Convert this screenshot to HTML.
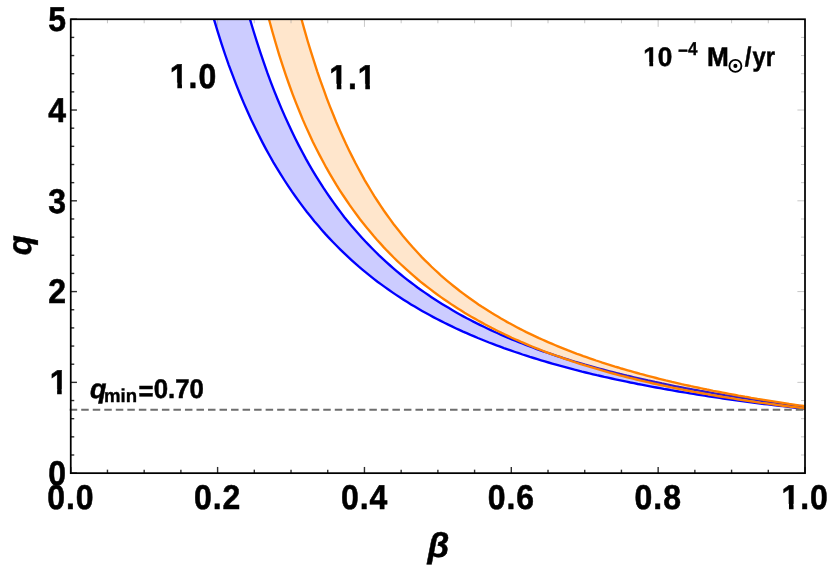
<!DOCTYPE html>
<html><head><meta charset="utf-8"><title>plot</title>
<style>
html,body{margin:0;padding:0;background:#fff;}
body{width:830px;height:565px;overflow:hidden;}
svg{display:block;will-change:transform;}
text{font-family:"Liberation Sans",sans-serif;font-weight:bold;fill:#000;text-rendering:geometricPrecision;}
.tl{font-size:35px;stroke:#000;stroke-width:0.55px;}
.ls{letter-spacing:1.04px;}
.al{font-size:35px;font-style:italic;stroke:#000;stroke-width:0.5px;}
.ml{font-size:27px;stroke:#000;stroke-width:0.5px;}
.sl{font-size:18.6px;stroke:#000;stroke-width:0.35px;}
.it{font-style:italic;}
.tk{stroke:#2e2e2e;stroke-width:1.4;}
.tk2{stroke:#999;stroke-width:0.55;}
</style></head><body>
<svg width="830" height="565" viewBox="0 0 830 565">
<rect width="830" height="565" fill="#fff"/>
<path d="M214.0 19.3L217.7 31.6L221.4 43.4L225.1 54.5L228.8 65.1L232.6 75.2L236.3 84.8L240.0 94.0L243.7 102.9L247.4 111.3L251.1 119.5L254.9 127.3L258.6 134.8L262.3 142.1L266.0 149.1L269.7 155.8L273.4 162.3L277.2 168.6L280.9 174.6L284.6 180.5L288.3 186.2L292.0 191.7L295.8 197.0L299.5 202.1L303.2 207.1L306.9 212.0L310.6 216.6L314.3 221.2L318.1 225.6L321.8 229.9L325.5 234.1L329.2 238.1L332.9 242.0L336.6 245.8L340.4 249.6L344.1 253.2L347.8 256.7L351.5 260.1L355.2 263.4L358.9 266.7L362.7 269.8L366.4 272.9L370.1 275.9L373.8 278.8L377.5 281.7L381.2 284.4L385.0 287.1L388.7 289.8L392.4 292.4L396.1 294.9L399.8 297.3L403.5 299.7L407.3 302.1L411.0 304.4L414.7 306.6L418.4 308.8L422.1 310.9L425.9 313.0L429.6 315.1L433.3 317.1L437.0 319.0L440.7 320.9L444.4 322.8L448.2 324.6L451.9 326.4L455.6 328.2L459.3 329.9L463.0 331.6L466.7 333.2L470.5 334.9L474.2 336.4L477.9 338.0L481.6 339.5L485.3 341.0L489.0 342.5L492.8 343.9L496.5 345.3L500.2 346.7L503.9 348.1L507.6 349.4L511.3 350.7L515.1 352.0L518.8 353.2L522.5 354.5L526.2 355.7L529.9 356.9L533.6 358.0L537.4 359.2L541.1 360.3L544.8 361.4L548.5 362.5L552.2 363.6L556.0 364.7L559.7 365.7L563.4 366.7L567.1 367.7L570.8 368.7L574.5 369.7L578.3 370.6L582.0 371.6L585.7 372.5L589.4 373.4L593.1 374.3L596.8 375.2L600.6 376.0L604.3 376.9L608.0 377.7L611.7 378.5L615.4 379.3L619.1 380.1L622.9 380.9L626.6 381.7L630.3 382.5L634.0 383.2L637.7 384.0L641.4 384.7L645.2 385.4L648.9 386.1L652.6 386.8L656.3 387.5L660.0 388.2L663.7 388.9L667.5 389.5L671.2 390.2L674.9 390.8L678.6 391.5L682.3 392.1L686.1 392.7L689.8 393.3L693.5 393.9L697.2 394.5L700.9 395.1L704.6 395.7L708.4 396.3L712.1 396.8L715.8 397.4L719.5 397.9L723.2 398.5L726.9 399.0L730.7 399.5L734.4 400.0L738.1 400.6L741.8 401.1L745.5 401.6L749.2 402.1L753.0 402.5L756.7 403.0L760.4 403.5L764.1 404.0L767.8 404.4L771.5 404.9L775.3 405.4L779.0 405.8L782.7 406.2L786.4 406.7L790.1 407.1L793.8 407.5L797.6 408.0L801.3 408.4L805.0 408.8L805.0 406.6L801.5 406.1L798.0 405.7L794.5 405.2L791.0 404.8L787.5 404.3L784.1 403.9L780.6 403.4L777.1 402.9L773.6 402.4L770.1 402.0L766.6 401.5L763.1 401.0L759.6 400.5L756.1 399.9L752.6 399.4L749.2 398.9L745.7 398.4L742.2 397.8L738.7 397.3L735.2 396.8L731.7 396.2L728.2 395.6L724.7 395.1L721.2 394.5L717.7 393.9L714.2 393.3L710.8 392.7L707.3 392.1L703.8 391.5L700.3 390.9L696.8 390.2L693.3 389.6L689.8 389.0L686.3 388.3L682.8 387.6L679.3 387.0L675.8 386.3L672.4 385.6L668.9 384.9L665.4 384.2L661.9 383.5L658.4 382.7L654.9 382.0L651.4 381.2L647.9 380.5L644.4 379.7L640.9 378.9L637.5 378.1L634.0 377.3L630.5 376.5L627.0 375.7L623.5 374.8L620.0 374.0L616.5 373.1L613.0 372.2L609.5 371.3L606.0 370.4L602.5 369.5L599.1 368.6L595.6 367.6L592.1 366.6L588.6 365.6L585.1 364.7L581.6 363.6L578.1 362.6L574.6 361.6L571.1 360.5L567.6 359.4L564.1 358.3L560.7 357.2L557.2 356.1L553.7 354.9L550.2 353.7L546.7 352.5L543.2 351.3L539.7 350.1L536.2 348.8L532.7 347.5L529.2 346.2L525.8 344.9L522.3 343.5L518.8 342.1L515.3 340.7L511.8 339.3L508.3 337.9L504.8 336.4L501.3 334.9L497.8 333.3L494.3 331.7L490.8 330.1L487.4 328.5L483.9 326.8L480.4 325.1L476.9 323.4L473.4 321.6L469.9 319.8L466.4 318.0L462.9 316.1L459.4 314.2L455.9 312.2L452.5 310.2L449.0 308.1L445.5 306.0L442.0 303.9L438.5 301.7L435.0 299.5L431.5 297.2L428.0 294.8L424.5 292.4L421.0 290.0L417.5 287.5L414.1 284.9L410.6 282.3L407.1 279.6L403.6 276.8L400.1 274.0L396.6 271.1L393.1 268.1L389.6 265.0L386.1 261.9L382.6 258.7L379.1 255.4L375.7 252.0L372.2 248.5L368.7 244.9L365.2 241.3L361.7 237.5L358.2 233.6L354.7 229.6L351.2 225.5L347.7 221.2L344.2 216.9L340.8 212.4L337.3 207.7L333.8 202.9L330.3 198.0L326.8 192.9L323.3 187.7L319.8 182.2L316.3 176.6L312.8 170.8L309.3 164.8L305.8 158.6L302.4 152.2L298.9 145.6L295.4 138.7L291.9 131.5L288.4 124.1L284.9 116.4L281.4 108.4L277.9 100.0L274.4 91.4L270.9 82.3L267.4 72.9L264.0 63.1L260.5 52.9L257.0 42.2L253.5 31.0L250.0 19.3Z" fill="#0000ff" fill-opacity="0.2"/>
<path d="M214.0 19.3L217.7 31.6L221.4 43.4L225.1 54.5L228.8 65.1L232.6 75.2L236.3 84.8L240.0 94.0L243.7 102.9L247.4 111.3L251.1 119.5L254.9 127.3L258.6 134.8L262.3 142.1L266.0 149.1L269.7 155.8L273.4 162.3L277.2 168.6L280.9 174.6L284.6 180.5L288.3 186.2L292.0 191.7L295.8 197.0L299.5 202.1L303.2 207.1L306.9 212.0L310.6 216.6L314.3 221.2L318.1 225.6L321.8 229.9L325.5 234.1L329.2 238.1L332.9 242.0L336.6 245.8L340.4 249.6L344.1 253.2L347.8 256.7L351.5 260.1L355.2 263.4L358.9 266.7L362.7 269.8L366.4 272.9L370.1 275.9L373.8 278.8L377.5 281.7L381.2 284.4L385.0 287.1L388.7 289.8L392.4 292.4L396.1 294.9L399.8 297.3L403.5 299.7L407.3 302.1L411.0 304.4L414.7 306.6L418.4 308.8L422.1 310.9L425.9 313.0L429.6 315.1L433.3 317.1L437.0 319.0L440.7 320.9L444.4 322.8L448.2 324.6L451.9 326.4L455.6 328.2L459.3 329.9L463.0 331.6L466.7 333.2L470.5 334.9L474.2 336.4L477.9 338.0L481.6 339.5L485.3 341.0L489.0 342.5L492.8 343.9L496.5 345.3L500.2 346.7L503.9 348.1L507.6 349.4L511.3 350.7L515.1 352.0L518.8 353.2L522.5 354.5L526.2 355.7L529.9 356.9L533.6 358.0L537.4 359.2L541.1 360.3L544.8 361.4L548.5 362.5L552.2 363.6L556.0 364.7L559.7 365.7L563.4 366.7L567.1 367.7L570.8 368.7L574.5 369.7L578.3 370.6L582.0 371.6L585.7 372.5L589.4 373.4L593.1 374.3L596.8 375.2L600.6 376.0L604.3 376.9L608.0 377.7L611.7 378.5L615.4 379.3L619.1 380.1L622.9 380.9L626.6 381.7L630.3 382.5L634.0 383.2L637.7 384.0L641.4 384.7L645.2 385.4L648.9 386.1L652.6 386.8L656.3 387.5L660.0 388.2L663.7 388.9L667.5 389.5L671.2 390.2L674.9 390.8L678.6 391.5L682.3 392.1L686.1 392.7L689.8 393.3L693.5 393.9L697.2 394.5L700.9 395.1L704.6 395.7L708.4 396.3L712.1 396.8L715.8 397.4L719.5 397.9L723.2 398.5L726.9 399.0L730.7 399.5L734.4 400.0L738.1 400.6L741.8 401.1L745.5 401.6L749.2 402.1L753.0 402.5L756.7 403.0L760.4 403.5L764.1 404.0L767.8 404.4L771.5 404.9L775.3 405.4L779.0 405.8L782.7 406.2L786.4 406.7L790.1 407.1L793.8 407.5L797.6 408.0L801.3 408.4L805.0 408.8" fill="none" stroke="#0000ff" stroke-width="2.35"/>
<path d="M250.0 19.3L253.5 31.0L257.0 42.2L260.5 52.9L264.0 63.1L267.4 72.9L270.9 82.3L274.4 91.4L277.9 100.0L281.4 108.4L284.9 116.4L288.4 124.1L291.9 131.5L295.4 138.7L298.9 145.6L302.4 152.2L305.8 158.6L309.3 164.8L312.8 170.8L316.3 176.6L319.8 182.2L323.3 187.7L326.8 192.9L330.3 198.0L333.8 202.9L337.3 207.7L340.8 212.4L344.2 216.9L347.7 221.2L351.2 225.5L354.7 229.6L358.2 233.6L361.7 237.5L365.2 241.3L368.7 244.9L372.2 248.5L375.7 252.0L379.1 255.4L382.6 258.7L386.1 261.9L389.6 265.0L393.1 268.1L396.6 271.1L400.1 274.0L403.6 276.8L407.1 279.6L410.6 282.3L414.1 284.9L417.5 287.5L421.0 290.0L424.5 292.4L428.0 294.8L431.5 297.2L435.0 299.5L438.5 301.7L442.0 303.9L445.5 306.0L449.0 308.1L452.5 310.2L455.9 312.2L459.4 314.2L462.9 316.1L466.4 318.0L469.9 319.8L473.4 321.6L476.9 323.4L480.4 325.1L483.9 326.8L487.4 328.5L490.8 330.1L494.3 331.7L497.8 333.3L501.3 334.9L504.8 336.4L508.3 337.9L511.8 339.3L515.3 340.7L518.8 342.1L522.3 343.5L525.8 344.9L529.2 346.2L532.7 347.5L536.2 348.8L539.7 350.1L543.2 351.3L546.7 352.5L550.2 353.7L553.7 354.9L557.2 356.1L560.7 357.2L564.1 358.3L567.6 359.4L571.1 360.5L574.6 361.6L578.1 362.6L581.6 363.6L585.1 364.7L588.6 365.6L592.1 366.6L595.6 367.6L599.1 368.6L602.5 369.5L606.0 370.4L609.5 371.3L613.0 372.2L616.5 373.1L620.0 374.0L623.5 374.8L627.0 375.7L630.5 376.5L634.0 377.3L637.5 378.1L640.9 378.9L644.4 379.7L647.9 380.5L651.4 381.2L654.9 382.0L658.4 382.7L661.9 383.5L665.4 384.2L668.9 384.9L672.4 385.6L675.8 386.3L679.3 387.0L682.8 387.6L686.3 388.3L689.8 389.0L693.3 389.6L696.8 390.2L700.3 390.9L703.8 391.5L707.3 392.1L710.8 392.7L714.2 393.3L717.7 393.9L721.2 394.5L724.7 395.1L728.2 395.6L731.7 396.2L735.2 396.8L738.7 397.3L742.2 397.8L745.7 398.4L749.2 398.9L752.6 399.4L756.1 399.9L759.6 400.5L763.1 401.0L766.6 401.5L770.1 402.0L773.6 402.4L777.1 402.9L780.6 403.4L784.1 403.9L787.5 404.3L791.0 404.8L794.5 405.2L798.0 405.7L801.5 406.1L805.0 406.6" fill="none" stroke="#0000ff" stroke-width="2.35"/>
<path d="M269.0 19.3L272.4 31.7L275.8 43.5L279.1 54.6L282.5 65.2L285.9 75.3L289.3 85.0L292.6 94.1L296.0 102.9L299.4 111.3L302.7 119.4L306.1 127.1L309.5 134.5L312.8 141.7L316.2 148.5L319.6 155.1L323.0 161.5L326.3 167.7L329.7 173.6L333.1 179.3L336.4 184.9L339.8 190.3L343.2 195.5L346.6 200.5L349.9 205.4L353.3 210.1L356.7 214.7L360.0 219.2L363.4 223.5L366.8 227.7L370.2 231.8L373.5 235.8L376.9 239.7L380.3 243.4L383.6 247.1L387.0 250.7L390.4 254.1L393.7 257.5L397.1 260.8L400.5 264.0L403.9 267.2L407.2 270.2L410.6 273.2L414.0 276.1L417.3 279.0L420.7 281.8L424.1 284.5L427.5 287.1L430.8 289.7L434.2 292.3L437.6 294.7L440.9 297.1L444.3 299.5L447.7 301.8L451.1 304.1L454.4 306.3L457.8 308.5L461.2 310.6L464.5 312.7L467.9 314.7L471.3 316.7L474.7 318.6L478.0 320.6L481.4 322.4L484.8 324.3L488.1 326.0L491.5 327.8L494.9 329.5L498.2 331.2L501.6 332.9L505.0 334.5L508.4 336.1L511.7 337.7L515.1 339.2L518.5 340.7L521.8 342.2L525.2 343.6L528.6 345.1L532.0 346.5L535.3 347.8L538.7 349.2L542.1 350.5L545.4 351.8L548.8 353.1L552.2 354.3L555.6 355.5L558.9 356.7L562.3 357.9L565.7 359.1L569.0 360.2L572.4 361.4L575.8 362.5L579.1 363.6L582.5 364.6L585.9 365.7L589.3 366.7L592.6 367.7L596.0 368.7L599.4 369.7L602.7 370.7L606.1 371.6L609.5 372.6L612.9 373.5L616.2 374.4L619.6 375.3L623.0 376.2L626.3 377.0L629.7 377.9L633.1 378.7L636.5 379.5L639.8 380.3L643.2 381.1L646.6 381.9L649.9 382.7L653.3 383.5L656.7 384.2L660.1 385.0L663.4 385.7L666.8 386.4L670.2 387.1L673.5 387.8L676.9 388.5L680.3 389.2L683.6 389.8L687.0 390.5L690.4 391.1L693.8 391.8L697.1 392.4L700.5 393.0L703.9 393.6L707.2 394.2L710.6 394.8L714.0 395.4L717.4 396.0L720.7 396.5L724.1 397.1L727.5 397.6L730.8 398.2L734.2 398.7L737.6 399.3L741.0 399.8L744.3 400.3L747.7 400.8L751.1 401.3L754.4 401.8L757.8 402.3L761.2 402.8L764.5 403.2L767.9 403.7L771.3 404.2L774.7 404.6L778.0 405.1L781.4 405.5L784.8 406.0L788.1 406.4L791.5 406.8L794.9 407.2L798.3 407.7L801.6 408.1L805.0 408.5L805.0 406.2L801.8 405.7L798.7 405.3L795.5 404.8L792.3 404.3L789.2 403.9L786.0 403.4L782.8 402.9L779.7 402.4L776.5 401.9L773.3 401.4L770.2 400.9L767.0 400.4L763.8 399.9L760.7 399.4L757.5 398.9L754.3 398.3L751.2 397.8L748.0 397.2L744.8 396.7L741.7 396.1L738.5 395.6L735.3 395.0L732.2 394.4L729.0 393.8L725.8 393.2L722.7 392.6L719.5 392.0L716.3 391.4L713.2 390.8L710.0 390.1L706.8 389.5L703.7 388.8L700.5 388.2L697.3 387.5L694.2 386.8L691.0 386.2L687.8 385.5L684.7 384.8L681.5 384.1L678.3 383.3L675.2 382.6L672.0 381.9L668.8 381.1L665.7 380.4L662.5 379.6L659.3 378.8L656.2 378.0L653.0 377.2L649.8 376.4L646.7 375.6L643.5 374.7L640.3 373.9L637.2 373.0L634.0 372.1L630.8 371.2L627.7 370.3L624.5 369.4L621.3 368.5L618.2 367.5L615.0 366.6L611.8 365.6L608.7 364.6L605.5 363.6L602.3 362.6L599.2 361.5L596.0 360.5L592.8 359.4L589.7 358.3L586.5 357.2L583.3 356.1L580.2 354.9L577.0 353.8L573.8 352.6L570.7 351.4L567.5 350.2L564.3 348.9L561.2 347.6L558.0 346.3L554.8 345.0L551.7 343.7L548.5 342.3L545.3 340.9L542.2 339.5L539.0 338.1L535.8 336.6L532.7 335.1L529.5 333.6L526.3 332.1L523.2 330.5L520.0 328.9L516.8 327.2L513.7 325.5L510.5 323.8L507.3 322.1L504.2 320.3L501.0 318.5L497.8 316.6L494.7 314.7L491.5 312.8L488.3 310.8L485.2 308.8L482.0 306.8L478.8 304.7L475.7 302.5L472.5 300.3L469.3 298.0L466.2 295.7L463.0 293.4L459.8 291.0L456.7 288.5L453.5 286.0L450.3 283.4L447.2 280.8L444.0 278.1L440.8 275.3L437.7 272.4L434.5 269.5L431.3 266.5L428.2 263.4L425.0 260.3L421.8 257.1L418.7 253.7L415.5 250.3L412.3 246.8L409.2 243.2L406.0 239.5L402.8 235.7L399.7 231.8L396.5 227.8L393.3 223.7L390.2 219.4L387.0 215.0L383.8 210.5L380.7 205.8L377.5 201.0L374.3 196.1L371.2 191.0L368.0 185.7L364.8 180.3L361.7 174.6L358.5 168.8L355.3 162.8L352.2 156.6L349.0 150.2L345.8 143.6L342.7 136.7L339.5 129.6L336.3 122.2L333.2 114.5L330.0 106.6L326.8 98.3L323.7 89.7L320.5 80.8L317.3 71.6L314.2 61.9L311.0 51.9L307.8 41.5L304.7 30.6L301.5 19.3Z" fill="#ff8000" fill-opacity="0.2"/>
<path d="M269.0 19.3L272.4 31.7L275.8 43.5L279.1 54.6L282.5 65.2L285.9 75.3L289.3 85.0L292.6 94.1L296.0 102.9L299.4 111.3L302.7 119.4L306.1 127.1L309.5 134.5L312.8 141.7L316.2 148.5L319.6 155.1L323.0 161.5L326.3 167.7L329.7 173.6L333.1 179.3L336.4 184.9L339.8 190.3L343.2 195.5L346.6 200.5L349.9 205.4L353.3 210.1L356.7 214.7L360.0 219.2L363.4 223.5L366.8 227.7L370.2 231.8L373.5 235.8L376.9 239.7L380.3 243.4L383.6 247.1L387.0 250.7L390.4 254.1L393.7 257.5L397.1 260.8L400.5 264.0L403.9 267.2L407.2 270.2L410.6 273.2L414.0 276.1L417.3 279.0L420.7 281.8L424.1 284.5L427.5 287.1L430.8 289.7L434.2 292.3L437.6 294.7L440.9 297.1L444.3 299.5L447.7 301.8L451.1 304.1L454.4 306.3L457.8 308.5L461.2 310.6L464.5 312.7L467.9 314.7L471.3 316.7L474.7 318.6L478.0 320.6L481.4 322.4L484.8 324.3L488.1 326.0L491.5 327.8L494.9 329.5L498.2 331.2L501.6 332.9L505.0 334.5L508.4 336.1L511.7 337.7L515.1 339.2L518.5 340.7L521.8 342.2L525.2 343.6L528.6 345.1L532.0 346.5L535.3 347.8L538.7 349.2L542.1 350.5L545.4 351.8L548.8 353.1L552.2 354.3L555.6 355.5L558.9 356.7L562.3 357.9L565.7 359.1L569.0 360.2L572.4 361.4L575.8 362.5L579.1 363.6L582.5 364.6L585.9 365.7L589.3 366.7L592.6 367.7L596.0 368.7L599.4 369.7L602.7 370.7L606.1 371.6L609.5 372.6L612.9 373.5L616.2 374.4L619.6 375.3L623.0 376.2L626.3 377.0L629.7 377.9L633.1 378.7L636.5 379.5L639.8 380.3L643.2 381.1L646.6 381.9L649.9 382.7L653.3 383.5L656.7 384.2L660.1 385.0L663.4 385.7L666.8 386.4L670.2 387.1L673.5 387.8L676.9 388.5L680.3 389.2L683.6 389.8L687.0 390.5L690.4 391.1L693.8 391.8L697.1 392.4L700.5 393.0L703.9 393.6L707.2 394.2L710.6 394.8L714.0 395.4L717.4 396.0L720.7 396.5L724.1 397.1L727.5 397.6L730.8 398.2L734.2 398.7L737.6 399.3L741.0 399.8L744.3 400.3L747.7 400.8L751.1 401.3L754.4 401.8L757.8 402.3L761.2 402.8L764.5 403.2L767.9 403.7L771.3 404.2L774.7 404.6L778.0 405.1L781.4 405.5L784.8 406.0L788.1 406.4L791.5 406.8L794.9 407.2L798.3 407.7L801.6 408.1L805.0 408.5" fill="none" stroke="#ff8000" stroke-width="2.35"/>
<path d="M301.5 19.3L304.7 30.6L307.8 41.5L311.0 51.9L314.2 61.9L317.3 71.6L320.5 80.8L323.7 89.7L326.8 98.3L330.0 106.6L333.2 114.5L336.3 122.2L339.5 129.6L342.7 136.7L345.8 143.6L349.0 150.2L352.2 156.6L355.3 162.8L358.5 168.8L361.7 174.6L364.8 180.3L368.0 185.7L371.2 191.0L374.3 196.1L377.5 201.0L380.7 205.8L383.8 210.5L387.0 215.0L390.2 219.4L393.3 223.7L396.5 227.8L399.7 231.8L402.8 235.7L406.0 239.5L409.2 243.2L412.3 246.8L415.5 250.3L418.7 253.7L421.8 257.1L425.0 260.3L428.2 263.4L431.3 266.5L434.5 269.5L437.7 272.4L440.8 275.3L444.0 278.1L447.2 280.8L450.3 283.4L453.5 286.0L456.7 288.5L459.8 291.0L463.0 293.4L466.2 295.7L469.3 298.0L472.5 300.3L475.7 302.5L478.8 304.7L482.0 306.8L485.2 308.8L488.3 310.8L491.5 312.8L494.7 314.7L497.8 316.6L501.0 318.5L504.2 320.3L507.3 322.1L510.5 323.8L513.7 325.5L516.8 327.2L520.0 328.9L523.2 330.5L526.3 332.1L529.5 333.6L532.7 335.1L535.8 336.6L539.0 338.1L542.2 339.5L545.3 340.9L548.5 342.3L551.7 343.7L554.8 345.0L558.0 346.3L561.2 347.6L564.3 348.9L567.5 350.2L570.7 351.4L573.8 352.6L577.0 353.8L580.2 354.9L583.3 356.1L586.5 357.2L589.7 358.3L592.8 359.4L596.0 360.5L599.2 361.5L602.3 362.6L605.5 363.6L608.7 364.6L611.8 365.6L615.0 366.6L618.2 367.5L621.3 368.5L624.5 369.4L627.7 370.3L630.8 371.2L634.0 372.1L637.2 373.0L640.3 373.9L643.5 374.7L646.7 375.6L649.8 376.4L653.0 377.2L656.2 378.0L659.3 378.8L662.5 379.6L665.7 380.4L668.8 381.1L672.0 381.9L675.2 382.6L678.3 383.3L681.5 384.1L684.7 384.8L687.8 385.5L691.0 386.2L694.2 386.8L697.3 387.5L700.5 388.2L703.7 388.8L706.8 389.5L710.0 390.1L713.2 390.8L716.3 391.4L719.5 392.0L722.7 392.6L725.8 393.2L729.0 393.8L732.2 394.4L735.3 395.0L738.5 395.6L741.7 396.1L744.8 396.7L748.0 397.2L751.2 397.8L754.3 398.3L757.5 398.9L760.7 399.4L763.8 399.9L767.0 400.4L770.2 400.9L773.3 401.4L776.5 401.9L779.7 402.4L782.8 402.9L786.0 403.4L789.2 403.9L792.3 404.3L795.5 404.8L798.7 405.3L801.8 405.7L805.0 406.2" fill="none" stroke="#ff8000" stroke-width="2.35"/>
<line x1="69.70" y1="409.80" x2="805.00" y2="409.80" stroke="#6e6e6e" stroke-width="2.1" stroke-dasharray="7.5 4.025"/>
<line x1="70.75" y1="473.15" x2="70.75" y2="466.95" class="tk"/>
<line x1="70.75" y1="19.25" x2="70.75" y2="26.85" class="tk2"/>
<line x1="107.46" y1="473.15" x2="107.46" y2="469.65" class="tk"/>
<line x1="107.46" y1="19.25" x2="107.46" y2="23.25" class="tk2"/>
<line x1="144.18" y1="473.15" x2="144.18" y2="469.65" class="tk"/>
<line x1="144.18" y1="19.25" x2="144.18" y2="23.25" class="tk2"/>
<line x1="180.89" y1="473.15" x2="180.89" y2="469.65" class="tk"/>
<line x1="180.89" y1="19.25" x2="180.89" y2="23.25" class="tk2"/>
<line x1="217.60" y1="473.15" x2="217.60" y2="466.95" class="tk"/>
<line x1="217.60" y1="19.25" x2="217.60" y2="26.85" class="tk2"/>
<line x1="254.31" y1="473.15" x2="254.31" y2="469.65" class="tk"/>
<line x1="254.31" y1="19.25" x2="254.31" y2="23.25" class="tk2"/>
<line x1="291.03" y1="473.15" x2="291.03" y2="469.65" class="tk"/>
<line x1="291.03" y1="19.25" x2="291.03" y2="23.25" class="tk2"/>
<line x1="327.74" y1="473.15" x2="327.74" y2="469.65" class="tk"/>
<line x1="327.74" y1="19.25" x2="327.74" y2="23.25" class="tk2"/>
<line x1="364.45" y1="473.15" x2="364.45" y2="466.95" class="tk"/>
<line x1="364.45" y1="19.25" x2="364.45" y2="26.85" class="tk2"/>
<line x1="401.16" y1="473.15" x2="401.16" y2="469.65" class="tk"/>
<line x1="401.16" y1="19.25" x2="401.16" y2="23.25" class="tk2"/>
<line x1="437.88" y1="473.15" x2="437.88" y2="469.65" class="tk"/>
<line x1="437.88" y1="19.25" x2="437.88" y2="23.25" class="tk2"/>
<line x1="474.59" y1="473.15" x2="474.59" y2="469.65" class="tk"/>
<line x1="474.59" y1="19.25" x2="474.59" y2="23.25" class="tk2"/>
<line x1="511.30" y1="473.15" x2="511.30" y2="466.95" class="tk"/>
<line x1="511.30" y1="19.25" x2="511.30" y2="26.85" class="tk2"/>
<line x1="548.01" y1="473.15" x2="548.01" y2="469.65" class="tk"/>
<line x1="548.01" y1="19.25" x2="548.01" y2="23.25" class="tk2"/>
<line x1="584.73" y1="473.15" x2="584.73" y2="469.65" class="tk"/>
<line x1="584.73" y1="19.25" x2="584.73" y2="23.25" class="tk2"/>
<line x1="621.44" y1="473.15" x2="621.44" y2="469.65" class="tk"/>
<line x1="621.44" y1="19.25" x2="621.44" y2="23.25" class="tk2"/>
<line x1="658.15" y1="473.15" x2="658.15" y2="466.95" class="tk"/>
<line x1="658.15" y1="19.25" x2="658.15" y2="26.85" class="tk2"/>
<line x1="694.86" y1="473.15" x2="694.86" y2="469.65" class="tk"/>
<line x1="694.86" y1="19.25" x2="694.86" y2="23.25" class="tk2"/>
<line x1="731.58" y1="473.15" x2="731.58" y2="469.65" class="tk"/>
<line x1="731.58" y1="19.25" x2="731.58" y2="23.25" class="tk2"/>
<line x1="768.29" y1="473.15" x2="768.29" y2="469.65" class="tk"/>
<line x1="768.29" y1="19.25" x2="768.29" y2="23.25" class="tk2"/>
<line x1="805.00" y1="473.15" x2="805.00" y2="466.95" class="tk"/>
<line x1="805.00" y1="19.25" x2="805.00" y2="26.85" class="tk2"/>
<line x1="70.75" y1="473.15" x2="76.95" y2="473.15" class="tk"/>
<line x1="805.00" y1="473.15" x2="797.40" y2="473.15" class="tk2"/>
<line x1="70.75" y1="454.99" x2="74.25" y2="454.99" class="tk"/>
<line x1="805.00" y1="454.99" x2="801.00" y2="454.99" class="tk2"/>
<line x1="70.75" y1="436.84" x2="74.25" y2="436.84" class="tk"/>
<line x1="805.00" y1="436.84" x2="801.00" y2="436.84" class="tk2"/>
<line x1="70.75" y1="418.68" x2="74.25" y2="418.68" class="tk"/>
<line x1="805.00" y1="418.68" x2="801.00" y2="418.68" class="tk2"/>
<line x1="70.75" y1="400.53" x2="74.25" y2="400.53" class="tk"/>
<line x1="805.00" y1="400.53" x2="801.00" y2="400.53" class="tk2"/>
<line x1="70.75" y1="382.37" x2="76.95" y2="382.37" class="tk"/>
<line x1="805.00" y1="382.37" x2="797.40" y2="382.37" class="tk2"/>
<line x1="70.75" y1="364.21" x2="74.25" y2="364.21" class="tk"/>
<line x1="805.00" y1="364.21" x2="801.00" y2="364.21" class="tk2"/>
<line x1="70.75" y1="346.06" x2="74.25" y2="346.06" class="tk"/>
<line x1="805.00" y1="346.06" x2="801.00" y2="346.06" class="tk2"/>
<line x1="70.75" y1="327.90" x2="74.25" y2="327.90" class="tk"/>
<line x1="805.00" y1="327.90" x2="801.00" y2="327.90" class="tk2"/>
<line x1="70.75" y1="309.75" x2="74.25" y2="309.75" class="tk"/>
<line x1="805.00" y1="309.75" x2="801.00" y2="309.75" class="tk2"/>
<line x1="70.75" y1="291.59" x2="76.95" y2="291.59" class="tk"/>
<line x1="805.00" y1="291.59" x2="797.40" y2="291.59" class="tk2"/>
<line x1="70.75" y1="273.43" x2="74.25" y2="273.43" class="tk"/>
<line x1="805.00" y1="273.43" x2="801.00" y2="273.43" class="tk2"/>
<line x1="70.75" y1="255.28" x2="74.25" y2="255.28" class="tk"/>
<line x1="805.00" y1="255.28" x2="801.00" y2="255.28" class="tk2"/>
<line x1="70.75" y1="237.12" x2="74.25" y2="237.12" class="tk"/>
<line x1="805.00" y1="237.12" x2="801.00" y2="237.12" class="tk2"/>
<line x1="70.75" y1="218.97" x2="74.25" y2="218.97" class="tk"/>
<line x1="805.00" y1="218.97" x2="801.00" y2="218.97" class="tk2"/>
<line x1="70.75" y1="200.81" x2="76.95" y2="200.81" class="tk"/>
<line x1="805.00" y1="200.81" x2="797.40" y2="200.81" class="tk2"/>
<line x1="70.75" y1="182.65" x2="74.25" y2="182.65" class="tk"/>
<line x1="805.00" y1="182.65" x2="801.00" y2="182.65" class="tk2"/>
<line x1="70.75" y1="164.50" x2="74.25" y2="164.50" class="tk"/>
<line x1="805.00" y1="164.50" x2="801.00" y2="164.50" class="tk2"/>
<line x1="70.75" y1="146.34" x2="74.25" y2="146.34" class="tk"/>
<line x1="805.00" y1="146.34" x2="801.00" y2="146.34" class="tk2"/>
<line x1="70.75" y1="128.19" x2="74.25" y2="128.19" class="tk"/>
<line x1="805.00" y1="128.19" x2="801.00" y2="128.19" class="tk2"/>
<line x1="70.75" y1="110.03" x2="76.95" y2="110.03" class="tk"/>
<line x1="805.00" y1="110.03" x2="797.40" y2="110.03" class="tk2"/>
<line x1="70.75" y1="91.87" x2="74.25" y2="91.87" class="tk"/>
<line x1="805.00" y1="91.87" x2="801.00" y2="91.87" class="tk2"/>
<line x1="70.75" y1="73.72" x2="74.25" y2="73.72" class="tk"/>
<line x1="805.00" y1="73.72" x2="801.00" y2="73.72" class="tk2"/>
<line x1="70.75" y1="55.56" x2="74.25" y2="55.56" class="tk"/>
<line x1="805.00" y1="55.56" x2="801.00" y2="55.56" class="tk2"/>
<line x1="70.75" y1="37.41" x2="74.25" y2="37.41" class="tk"/>
<line x1="805.00" y1="37.41" x2="801.00" y2="37.41" class="tk2"/>
<line x1="70.75" y1="19.25" x2="76.95" y2="19.25" class="tk"/>
<line x1="805.00" y1="19.25" x2="797.40" y2="19.25" class="tk2"/>
<rect x="70.75" y="19.25" width="734.25" height="453.90" fill="none" stroke="#000" stroke-width="1.75"/>
<text transform="translate(70.85 508.90) scale(0.9130 0.9850)" text-anchor="middle" class="tl ls">0.0</text>
<text transform="translate(217.70 508.90) scale(0.9130 0.9850)" text-anchor="middle" class="tl ls">0.2</text>
<text transform="translate(364.55 508.90) scale(0.9130 0.9850)" text-anchor="middle" class="tl ls">0.4</text>
<text transform="translate(511.40 508.90) scale(0.9130 0.9850)" text-anchor="middle" class="tl ls">0.6</text>
<text transform="translate(658.25 508.90) scale(0.9130 0.9850)" text-anchor="middle" class="tl ls">0.8</text>
<text transform="translate(805.10 508.90) scale(0.9130 0.9850)" text-anchor="middle" class="tl ls">1.0</text>
<text transform="translate(66.10 484.85) scale(0.9130 0.9800)" text-anchor="end" class="tl">0</text>
<text transform="translate(67.40 394.07) scale(0.9130 0.9800)" text-anchor="end" class="tl">1</text>
<text transform="translate(66.10 303.29) scale(0.9130 0.9800)" text-anchor="end" class="tl">2</text>
<text transform="translate(66.10 212.51) scale(0.9130 0.9800)" text-anchor="end" class="tl">3</text>
<text transform="translate(66.10 121.73) scale(0.9130 0.9800)" text-anchor="end" class="tl">4</text>
<text transform="translate(66.10 30.95) scale(0.9130 0.9800)" text-anchor="end" class="tl">5</text>
<text transform="translate(193.50 87.60) scale(0.9130 0.9800)" text-anchor="middle" class="tl ls">1.0</text>
<text transform="translate(352.90 88.80) scale(0.9130 0.9800)" text-anchor="middle" class="tl ls">1.1</text>
<text transform="translate(438.30 556.90) scale(1.0000 0.9850)" text-anchor="middle" class="al">β</text>
<text transform="translate(30.6 245.2) rotate(-90) scale(0.945)" text-anchor="middle" class="al">q</text>
<text transform="translate(90.00 398.20) scale(1.0000 1.0000)" text-anchor="start" class="ml it">q</text>
<text transform="translate(104.00 401.90) scale(1.0000 1.0000)" text-anchor="start" class="sl">min</text>
<text transform="translate(138.60 398.20) scale(0.9550 1.0000)" text-anchor="start" class="ml"><tspan dy="1.8">=</tspan><tspan dy="-1.8">0.70</tspan></text>
<text transform="translate(643.20 66.20) scale(0.9700 1.0000)" text-anchor="start" class="ml">10</text>
<text transform="translate(678.10 55.20) scale(0.9200 1.0000)" text-anchor="start" class="sl"><tspan dy="1.6">−</tspan><tspan dy="-1.6">4</tspan></text>
<text transform="translate(706.90 66.20) scale(0.9700 1.0000)" text-anchor="start" class="ml">M</text>
<circle cx="735.4" cy="65.9" r="6.0" fill="none" stroke="#000" stroke-width="1.85"/><circle cx="735.4" cy="65.9" r="2.05" fill="#000"/>
<text transform="translate(744.40 66.20) scale(0.8800 1.0000)" text-anchor="start" class="ml" x="0.45 9.24 24.27">/yr</text>
<rect x="780.97" y="503.88" width="7.99" height="7.02" fill="#fff"/>
<rect x="793.56" y="503.88" width="5.89" height="7.02" fill="#fff"/>
<rect x="49.14" y="389.07" width="7.99" height="7.00" fill="#fff"/>
<rect x="61.72" y="389.07" width="5.89" height="7.00" fill="#fff"/>
<rect x="169.37" y="82.60" width="7.99" height="7.00" fill="#fff"/>
<rect x="181.96" y="82.60" width="5.89" height="7.00" fill="#fff"/>
<rect x="328.77" y="83.80" width="7.99" height="7.00" fill="#fff"/>
<rect x="341.36" y="83.80" width="5.89" height="7.00" fill="#fff"/>
<rect x="357.32" y="83.80" width="7.99" height="7.00" fill="#fff"/>
<rect x="369.90" y="83.80" width="5.89" height="7.00" fill="#fff"/>
<rect x="642.35" y="61.94" width="7.02" height="6.26" fill="#fff"/>
<rect x="653.15" y="61.94" width="4.99" height="6.26" fill="#fff"/>
</svg>
</body></html>
